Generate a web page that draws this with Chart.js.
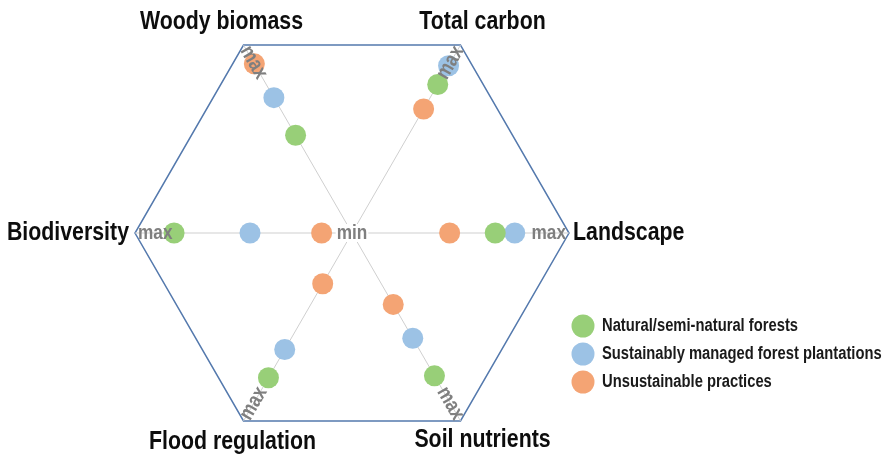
<!DOCTYPE html>
<html>
<head>
<meta charset="utf-8">
<script src="https://cdn.jsdelivr.net/npm/chart.js@4.4.1/dist/chart.umd.min.js"></script>
<style>
  html, body { margin: 0; padding: 0; background: #fff; }
  #wrap { width: 885px; height: 458px; position: relative; }
</style>
</head>
<body>
<div id="wrap"><canvas id="forestChart"></canvas></div>
<script>
// axes, clockwise from the top-right corner
var axisLabels = ['Total carbon', 'Landscape', 'Soil nutrients', 'Flood regulation', 'Biodiversity', 'Woody biomass'];
// position on each axis, 0 = min (centre), 1 = max (corner)
var naturalForests = [0.79, 0.66, 0.76, 0.77, 0.82, 0.52];
var managedPlantations = [0.89, 0.75, 0.56, 0.62, 0.47, 0.72];
var unsustainable = [0.66, 0.45, 0.38, 0.27, 0.14, 0.90];
var seriesNames = ['Natural/semi-natural forests', 'Sustainably managed forest plantations', 'Unsustainable practices'];

var fontFam = "'Liberation Sans', Arial, sans-serif";
var squeeze = 0.82; // fake a narrow font

function narrowText(ctx, txt, x, y, align) {
    ctx.save();
    ctx.translate(x, y);
    ctx.scale(squeeze, 1);
    ctx.textAlign = align;
    ctx.fillText(txt, 0, 0);
    ctx.restore();
}

// axis titles + max/min marks
var hexText = {
    id: 'hexText',
    afterDatasetsDraw: function(chart) {
        var ctx = chart.ctx;
        var r = chart.scales.r;
        var R = r.drawingArea;
        ctx.save();

        // "max" along each spoke
        ctx.font = 'bold 21px ' + fontFam;
        ctx.fillStyle = '#7f7f7f';
        ctx.textBaseline = 'middle';
        for (var i = 0; i < axisLabels.length; i++) {
            var p = r.getPointPosition(i, R - 3);
            var ang = r.getIndexAngle(i) - Math.PI / 2;
            ctx.save();
            ctx.translate(p.x, p.y);
            if (Math.cos(ang) < -0.01) {
                ctx.rotate(ang + Math.PI);
                narrowText(ctx, 'max', 0, 0, 'left');
            } else {
                ctx.rotate(ang);
                narrowText(ctx, 'max', 0, 0, 'right');
            }
            ctx.restore();
        }

        // "min" in the middle
        var w = ctx.measureText('min').width * squeeze;
        ctx.fillStyle = '#fff';
        ctx.fillRect(r.xCenter - w / 2 - 1, r.yCenter - 9, w + 2, 18);
        ctx.fillStyle = '#7f7f7f';
        narrowText(ctx, 'min', r.xCenter, r.yCenter, 'center');

        // axis titles
        ctx.font = 'bold 26px ' + fontFam;
        ctx.fillStyle = '#0d0d0d';
        var offs = [[22, -23, 'center'], [4, 0, 'left'], [22, 19, 'center'],
                    [-11, 21, 'center'], [-6, 0, 'right'], [-22, -23, 'center']];
        for (var j = 0; j < axisLabels.length; j++) {
            var v = r.getPointPosition(j, R);
            narrowText(ctx, axisLabels[j], v.x + offs[j][0], v.y + offs[j][1], offs[j][2]);
        }
        ctx.restore();
    }
};

// legend box, lower right
var sideLegend = {
    id: 'sideLegend',
    afterDraw: function(chart) {
        var ctx = chart.ctx;
        ctx.save();
        ctx.font = 'bold 18px ' + fontFam;
        ctx.textBaseline = 'middle';
        chart.data.datasets.forEach(function(ds, k) {
            var y = 326 + k * 28;
            ctx.fillStyle = ds.pointBackgroundColor;
            ctx.beginPath();
            ctx.arc(583, y, 11.5, 0, Math.PI * 2);
            ctx.fill();
            ctx.fillStyle = '#1a1a1a';
            narrowText(ctx, ds.label, 602, y, 'left');
        });
        ctx.restore();
    }
};

function makeSet(label, data, colour) {
    return {
        label: label,
        data: data,
        showLine: false,
        fill: false,
        borderWidth: 0,
        backgroundColor: 'transparent',
        pointBackgroundColor: colour,
        pointBorderWidth: 0,
        pointRadius: 10.5,
        pointHoverRadius: 10.5
    };
}

var ctx = document.getElementById('forestChart').getContext('2d');
var chart = new Chart(ctx, {
    type: 'radar',
    data: {
        labels: axisLabels,
        datasets: [
            makeSet(seriesNames[0], naturalForests, '#98cf78'),
            makeSet(seriesNames[1], managedPlantations, '#9cc2e5'),
            makeSet(seriesNames[2], unsustainable, '#f4a474')
        ]
    },
    options: {
        responsive: true,
        maintainAspectRatio: false,
        animation: false,
        layout: { padding: { left: 135, right: 316, top: 16, bottom: 8 } },
        plugins: {
            legend: { display: false },
            tooltip: { enabled: false }
        },
        scales: {
            r: {
                min: 0,
                max: 1,
                startAngle: 30,
                ticks: { display: false, stepSize: 1 },
                pointLabels: { display: false },
                grid: { color: '#5479ad', lineWidth: 1.5 },
                angleLines: { color: '#cfcfcf', lineWidth: 1 }
            }
        }
    },
    plugins: [hexText, sideLegend]
});
</script>
</body>
</html>
